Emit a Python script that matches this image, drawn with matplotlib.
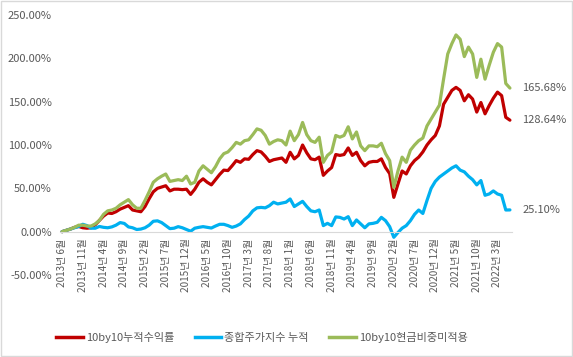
import matplotlib
matplotlib.use("Agg")
import matplotlib.pyplot as plt
from matplotlib.patches import Rectangle
from matplotlib.lines import Line2D

plt.rcParams['font.family'] = ['Noto Sans CJK KR', 'DejaVu Sans']

tick_labels = ["2013년 6월", "2013년 11월", "2014년 4월", "2014년 9월", "2015년 2월",
               "2015년 7월", "2015년 12월", "2016년 5월", "2016년 10월", "2017년 3월",
               "2017년 8월", "2018년 1월", "2018년 6월", "2018년 11월", "2019년 4월",
               "2019년 9월", "2020년 2월", "2020년 7월", "2020년 12월", "2021년 5월",
               "2021년 10월", "2022년 3월"]

series_names = ["10by10누적수익률", "종합주가지수 누적", "10by10현금비중미적용"]

red_10by10 = [0, 1.5, 3, 5, 6, 4.5, 4, 4.5, 8, 13,
              18, 21.5, 21, 23, 26, 28, 30, 25, 24, 23,
              29, 38, 46, 50, 51.5, 53, 47, 49, 49, 48.5,
              49, 43, 49, 57, 61, 57, 54, 60, 66, 71,
              70.5, 76, 82, 80, 84, 83.5, 89, 93.5, 92, 87,
              81, 83, 84, 85, 80, 91.6, 84, 88, 100, 91,
              84, 83, 86, 65, 70, 74, 89, 88, 89, 96.6,
              88, 91.6, 82, 76, 80, 81, 81, 84, 74, 67,
              39.6, 55, 70, 66.6, 76, 82, 86, 92, 100, 106,
              111, 122, 147, 155, 163, 166.5, 163, 151, 158, 153,
              138, 149, 136, 145.5, 154, 161, 157, 132, 128.64]

blue_kospi = [0, 1.5, 3, 4.5, 6, 8.5, 7, 4, 4, 6,
              5, 4.5, 5.5, 7.5, 10.5, 9.5, 5.5, 4.5, 2.5, 3,
              4.5, 7.5, 12, 12.5, 10.5, 7, 3.5, 4, 5.8, 4.5,
              2.5, 0.5, 4, 5, 5.8, 5, 4.2, 6.5, 8.5, 8.5,
              7, 5, 6.5, 9, 14, 18, 24, 27.5, 28, 27.5,
              30, 34, 32, 33, 34, 37.7, 29, 32, 35, 29,
              24, 23, 25, 7, 9.6, 7, 17, 16.5, 14.6, 17.3,
              7, 13.5, 9, 4.5, 9, 9.6, 10.8, 16.5, 12.7, 5.8,
              -6.5, -1, 4, 7, 12.7, 20, 25, 21, 36, 50,
              58, 63, 66.5, 70, 73.5, 76, 71, 69, 64, 60,
              54, 59, 42, 43.5, 47, 43.5, 42, 25, 25.10]

green_nocash = [0, 1.5, 3, 5, 7.5, 7.5, 6.5, 6.5, 9, 13,
                20, 24, 25, 27, 31, 34, 37, 31, 27, 27,
                36, 46, 57, 61, 64, 66.5, 58, 59, 60, 59,
                64, 55, 57, 70, 76, 72, 68, 75, 84, 90,
                92, 97, 103, 101, 105, 106, 112, 118.6, 117, 111,
                101, 104, 106, 105, 100, 116, 105, 112, 126, 112,
                105, 103, 109, 80, 88, 92, 111, 109, 111, 121,
                107, 115, 99, 93.5, 99, 99, 98, 102, 90, 82,
                51, 70, 86, 80, 94, 100, 105, 108, 122, 130,
                138, 146, 176, 205, 217, 227, 222, 202, 213, 205,
                178, 199, 176, 192, 207, 217, 213, 171, 165.68]

colors = ["#C00000", "#00B0F0", "#9BBB59"]
text_color = "#595959"

fig = plt.figure(figsize=(5.73, 3.57), dpi=100)
ax = fig.add_axes([60/573, 1-275/357, 452/573, 260/357])

x = list(range(len(red_10by10)))
all_series = [red_10by10, blue_kospi, green_nocash]
for s, c in zip(all_series, colors):
    ax.plot(x, s, color=c, lw=2.3, solid_joinstyle='round', solid_capstyle='round')

ax.set_xlim(-0.5, len(x) - 0.5)
ax.set_ylim(-50, 250)

for sp in ['top', 'right', 'left']:
    ax.spines[sp].set_visible(False)
ax.spines['bottom'].set_position(('data', 0))
ax.spines['bottom'].set_color('#d9d9d9')
ax.spines['bottom'].set_linewidth(0.8)

ax.tick_params(axis='both', length=0, colors=text_color, labelsize=8)
ax.tick_params(axis='x', pad=5, labelsize=7.2)
ax.tick_params(axis='y', pad=6)

yt = [-50, 0, 50, 100, 150, 200, 250]
ax.set_yticks(yt)
ax.set_yticklabels([f"{v:.2f}%" for v in yt])
ax.set_xticks(list(range(0, len(x), 5))[:len(tick_labels)])
ax.set_xticklabels(tick_labels)
for lab in ax.get_xticklabels():
    lab.set_rotation(90)
    lab.set_va('top')
    lab.set_ha('center')
    lab.set_rotation_mode('default')

for s in all_series:
    ax.annotate(f"{s[-1]:.2f}%", xy=(x[-1], s[-1]), xytext=(9, 0),
                textcoords='offset points', va='center', ha='left',
                fontsize=8, color=text_color, annotation_clip=False)

handles = [Line2D([0], [0], color=c, lw=2.5) for c in colors]
fig.legend(handles, series_names, loc='center', bbox_to_anchor=(262/573, 1-337/357),
           ncol=3, frameon=False, fontsize=8, handlelength=2.4, handletextpad=0.3,
           columnspacing=1.8, labelcolor=text_color)

fig.patches.append(Rectangle((0.001, 0.002), 0.997, 0.995, transform=fig.transFigure,
                             fill=False, edgecolor='#d9d9d9', lw=1))

fig.savefig("out.png", dpi=100)
